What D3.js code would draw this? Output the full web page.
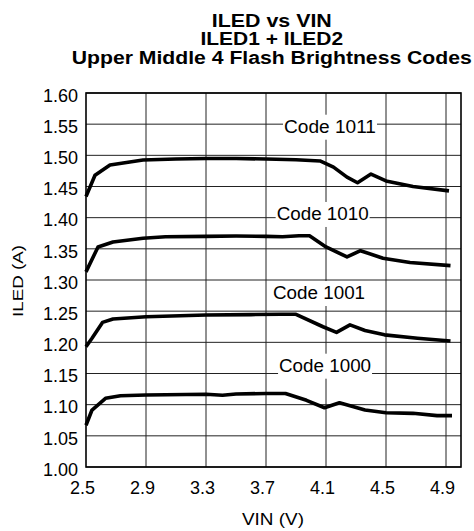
<!DOCTYPE html>
<html>
<head>
<meta charset="utf-8">
<script src="https://cdn.jsdelivr.net/npm/d3@7"></script>
<style>
  html, body { margin: 0; padding: 0; background: #fff; }
  svg { display: block; }
  text { font-family: "Liberation Sans", Arial, Helvetica, sans-serif; fill: #000; }
</style>
</head>
<body>
<svg id="chart" width="474" height="531"></svg>
<script>
// ---- data ----
const titleLines = ["ILED vs VIN", "ILED1 + ILED2", "Upper Middle 4 Flash Brightness Codes"];
const xTicks = [2.5, 2.9, 3.3, 3.7, 4.1, 4.5, 4.9];
const yTicks = [1.00, 1.05, 1.10, 1.15, 1.20, 1.25, 1.30, 1.35, 1.40, 1.45, 1.50, 1.55, 1.60];
const seriesNames = ["Code 1011", "Code 1010", "Code 1001", "Code 1000"];

const vin1011  = [2.50, 2.56, 2.66, 2.88, 3.10, 3.30, 3.50, 3.70, 3.90, 4.06, 4.15, 4.24, 4.31, 4.40, 4.50, 4.68, 4.92];
const iled1011 = [1.434, 1.468, 1.4845, 1.4925, 1.494, 1.495, 1.495, 1.494, 1.493, 1.491, 1.481, 1.465, 1.456, 1.470, 1.459, 1.450, 1.443];

const vin1010  = [2.50, 2.58, 2.68, 2.88, 3.03, 3.30, 3.50, 3.70, 3.81, 3.92, 3.99, 4.10, 4.24, 4.33, 4.48, 4.66, 4.93];
const iled1010 = [1.313, 1.353, 1.361, 1.367, 1.3695, 1.370, 1.3705, 1.370, 1.3695, 1.371, 1.371, 1.353, 1.337, 1.347, 1.335, 1.328, 1.323];

const vin1001  = [2.50, 2.54, 2.61, 2.68, 2.90, 3.30, 3.60, 3.80, 3.90, 4.08, 4.17, 4.26, 4.36, 4.49, 4.71, 4.93];
const iled1001 = [1.193, 1.2065, 1.232, 1.2374, 1.241, 1.2438, 1.2445, 1.245, 1.245, 1.225, 1.216, 1.228, 1.219, 1.212, 1.2065, 1.2021];

const vin1000  = [2.50, 2.54, 2.63, 2.73, 2.90, 3.30, 3.41, 3.50, 3.70, 3.83, 3.97, 4.09, 4.19, 4.36, 4.50, 4.68, 4.84, 4.94];
const iled1000 = [1.067, 1.0914, 1.1102, 1.1144, 1.1155, 1.1166, 1.1150, 1.117, 1.118, 1.118, 1.107, 1.095, 1.103, 1.0914, 1.087, 1.0861, 1.0824, 1.0824];

// label anchor positions in data units (left x, baseline y)
const labelVin  = [3.82, 3.771, 3.747, 3.787];
const labelIled = [1.5363, 1.3963, 1.2695, 1.1529];

// ---- layout ----
const svg = d3.select("#chart");
const m = { left: 86, right: 461, top: 93, bottom: 467 };
const x = d3.scaleLinear().domain([2.5, 5.0]).range([m.left, m.right]);
const y = d3.scaleLinear().domain([1.00, 1.60]).range([m.bottom, m.top]);

// title
const titleBaselines = [26.7, 45.2, 63.5];
const titleWidths = [120, 142.7, 400];
svg.selectAll("text.title").data(titleLines).enter().append("text")
  .attr("class", "title")
  .attr("x", 271.8)
  .attr("y", (d, i) => titleBaselines[i])
  .attr("text-anchor", "middle")
  .attr("font-weight", "bold")
  .attr("font-size", 17.5)
  .attr("textLength", (d, i) => titleWidths[i])
  .attr("lengthAdjust", "spacingAndGlyphs")
  .text(d => d);

// grid
const g = svg.append("g");
g.append("g").selectAll("line").data(yTicks).enter().append("line")
  .attr("x1", m.left).attr("x2", m.right)
  .attr("y1", d => y(d)).attr("y2", d => y(d))
  .attr("stroke", "#222").attr("stroke-width", 1);
g.append("g").selectAll("line").data(xTicks.slice(1)).enter().append("line")
  .attr("x1", d => x(d)).attr("x2", d => x(d))
  .attr("y1", m.top).attr("y2", m.bottom)
  .attr("stroke", "#222").attr("stroke-width", 1);

// axes (labels only, through d3 axes)
const xAxis = d3.axisBottom(x).tickValues(xTicks).tickSize(0).tickPadding(0)
  .tickFormat(d3.format(".1f"));
const xg = svg.append("g").attr("transform", `translate(-4,${m.bottom})`).call(xAxis);
xg.select(".domain").remove();
xg.selectAll("text").attr("font-size", 18).attr("y", 26.5).attr("dy", 0)
  .style("font-family", "'Liberation Sans', Arial, sans-serif");

const yAxis = d3.axisLeft(y).tickValues(yTicks).tickSize(0).tickPadding(8)
  .tickFormat(d3.format(".2f"));
const yg = svg.append("g").attr("transform", `translate(${m.left},0)`).call(yAxis);
yg.select(".domain").remove();
yg.selectAll("text").attr("font-size", 18).attr("dy", 8.3)
  .style("font-family", "'Liberation Sans', Arial, sans-serif");

// border
svg.append("rect")
  .attr("x", m.left).attr("y", m.top)
  .attr("width", m.right - m.left).attr("height", m.bottom - m.top)
  .attr("fill", "none").attr("stroke", "#000").attr("stroke-width", 1.6);

// series labels with white backgrounds
const labelWidth = 92;
const lab = svg.append("g").selectAll("g").data(seriesNames).enter().append("g");
lab.append("rect")
  .attr("x", (d, i) => x(labelVin[i]) - 1)
  .attr("y", (d, i) => y(labelIled[i]) - 18)
  .attr("width", labelWidth + 2)
  .attr("height", 25)
  .attr("fill", "#fff");
lab.append("text")
  .attr("x", (d, i) => x(labelVin[i]))
  .attr("y", (d, i) => y(labelIled[i]))
  .attr("font-size", 18)
  .attr("textLength", labelWidth)
  .attr("lengthAdjust", "spacingAndGlyphs")
  .text(d => d);

// curves
const seriesX = [vin1011, vin1010, vin1001, vin1000];
const seriesY = [iled1011, iled1010, iled1001, iled1000];
const line = d3.line().x(d => x(d[0])).y(d => y(d[1]));
seriesX.forEach((xs, i) => {
  const pts = xs.map((v, j) => [v, seriesY[i][j]]);
  svg.append("path").datum(pts)
    .attr("d", line)
    .attr("fill", "none")
    .attr("stroke", "#000")
    .attr("stroke-width", 3.6)
    .attr("stroke-linejoin", "round")
    .attr("stroke-linecap", "butt");
});

// axis titles
svg.append("text")
  .attr("x", 273).attr("y", 525)
  .attr("text-anchor", "middle")
  .attr("font-size", 17)
  .attr("textLength", 62)
  .attr("lengthAdjust", "spacingAndGlyphs")
  .text("VIN (V)");
svg.append("text")
  .attr("transform", "translate(23,281) rotate(-90)")
  .attr("text-anchor", "middle")
  .attr("font-size", 15)
  .attr("textLength", 72)
  .attr("lengthAdjust", "spacingAndGlyphs")
  .text("ILED (A)");
</script>
</body>
</html>
